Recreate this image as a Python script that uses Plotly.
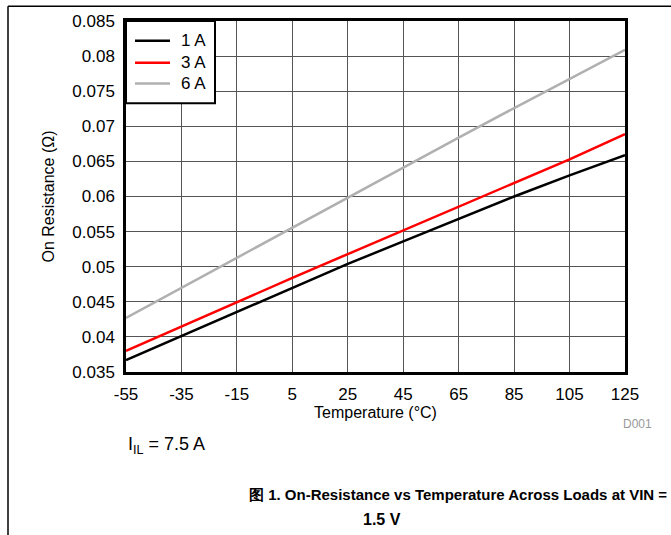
import plotly.graph_objects as go

# Temperature sweep (°C) and on-resistance (Ω) per load current
temperature = [-55, -35, -15, 5, 25, 45, 65, 85, 105, 125]
r_on_1a = [0.0367, 0.0401, 0.0436, 0.0470, 0.0504, 0.0536, 0.0568, 0.0600, 0.0630, 0.0659]
r_on_3a = [0.0380, 0.0415, 0.0450, 0.0484, 0.0518, 0.0552, 0.0586, 0.0619, 0.0653, 0.0689]
r_on_6a = [0.0427, 0.0470, 0.0513, 0.0556, 0.0599, 0.0641, 0.0684, 0.0726, 0.0768, 0.0809]

series_names = ["1 A", "3 A", "6 A"]
series_colors = ["#000000", "#ff0000", "#b0b0b0"]

x_ticks = [-55, -35, -15, 5, 25, 45, 65, 85, 105, 125]
y_ticks = [0.035, 0.04, 0.045, 0.05, 0.055, 0.06, 0.065, 0.07, 0.075, 0.08, 0.085]
y_tick_text = ["0.035", "0.04", "0.045", "0.05", "0.055", "0.06", "0.065",
               "0.07", "0.075", "0.08", "0.085"]

FONT = "Liberation Sans, Arial, sans-serif"

# Plot-area geometry in pixels (used to place paper-referenced decorations)
PLOT_L, PLOT_R, PLOT_T, PLOT_B = 126, 625, 18, 372
W, H = 671, 535


def px(x):
    return (x - PLOT_L) / (PLOT_R - PLOT_L)


def py(y):
    return (PLOT_B - y) / (PLOT_B - PLOT_T)


fig = go.Figure()
for name, color, values in zip(series_names, series_colors, [r_on_1a, r_on_3a, r_on_6a]):
    fig.add_trace(go.Scatter(
        x=temperature, y=values, name=name, mode="lines",
        line=dict(color=color, width=2.5), showlegend=False,
    ))

axis_common = dict(
    showgrid=True, gridcolor="#555555", gridwidth=1,
    showline=True, linecolor="#000000", linewidth=2.5, mirror=True,
    ticks="outside", ticklen=5, tickcolor="rgba(0,0,0,0)", zeroline=False,
    tickfont=dict(family=FONT, size=17, color="#000000"),
)

fig.update_xaxes(
    range=[-55, 125], tickvals=x_ticks, ticktext=[str(t) for t in x_ticks],
    title=dict(text="Temperature (°C)", font=dict(family=FONT, size=16, color="#000000"), standoff=4),
    **axis_common,
)
fig.update_yaxes(
    range=[0.035, 0.085], tickvals=y_ticks, ticktext=y_tick_text,
    title=dict(text="On Resistance (Ω)", font=dict(family=FONT, size=16, color="#000000"), standoff=14),
    **axis_common,
)

# Legend box drawn in the upper-left corner of the plot area
fig.add_shape(type="rect", xref="paper", yref="paper",
              x0=px(126), x1=px(215), y0=py(101), y1=py(18),
              line=dict(color="#000000", width=2), fillcolor="#ffffff", layer="above")
for i, (name, color) in enumerate(zip(series_names, series_colors)):
    yy = [38, 60, 81][i]
    fig.add_shape(type="line", xref="paper", yref="paper",
                  x0=px(135), x1=px(170), y0=py(yy), y1=py(yy),
                  line=dict(color=color, width=2.5), layer="above")
    fig.add_annotation(text=name, xref="paper", yref="paper", x=px(179), y=py(yy),
                       xanchor="left", yanchor="middle", showarrow=False,
                       font=dict(family=FONT, size=17, color="#000000"))

# Outer figure frame (left and top edges)
fig.add_shape(type="line", xref="paper", yref="paper",
              x0=px(8), x1=px(8), y0=py(3), y1=py(H + 5),
              line=dict(color="#000000", width=1.5))
fig.add_shape(type="line", xref="paper", yref="paper",
              x0=px(8), x1=px(W + 5), y0=py(3), y1=py(3),
              line=dict(color="#000000", width=1.5))

fig.add_annotation(text="D001", xref="paper", yref="paper", x=px(637), y=py(424),
                   xanchor="center", yanchor="middle", showarrow=False,
                   font=dict(family=FONT, size=12, color="#999999"))
fig.add_annotation(text="I<sub>IL</sub> = 7.5 A", xref="paper", yref="paper",
                   x=px(126), y=py(446), xanchor="left", yanchor="middle", showarrow=False,
                   font=dict(family=FONT, size=18, color="#000000"))
fig.add_annotation(text="<b>图 1. On-Resistance vs Temperature Across Loads at VIN =</b>",
                   xref="paper", yref="paper", x=px(669), y=py(496),
                   xanchor="right", yanchor="middle", showarrow=False,
                   font=dict(family=FONT, size=15, color="#000000"))
fig.add_annotation(text="<b>1.5 V</b>", xref="paper", yref="paper", x=px(382), y=py(521),
                   xanchor="center", yanchor="middle", showarrow=False,
                   font=dict(family=FONT, size=16, color="#000000"))

fig.update_layout(
    width=W, height=H,
    margin=dict(l=PLOT_L, r=W - PLOT_R, t=PLOT_T, b=H - PLOT_B),
    paper_bgcolor="#ffffff", plot_bgcolor="#ffffff",
    font=dict(family=FONT, size=16, color="#000000"),
    showlegend=False,
)

fig.write_html("out.html")
